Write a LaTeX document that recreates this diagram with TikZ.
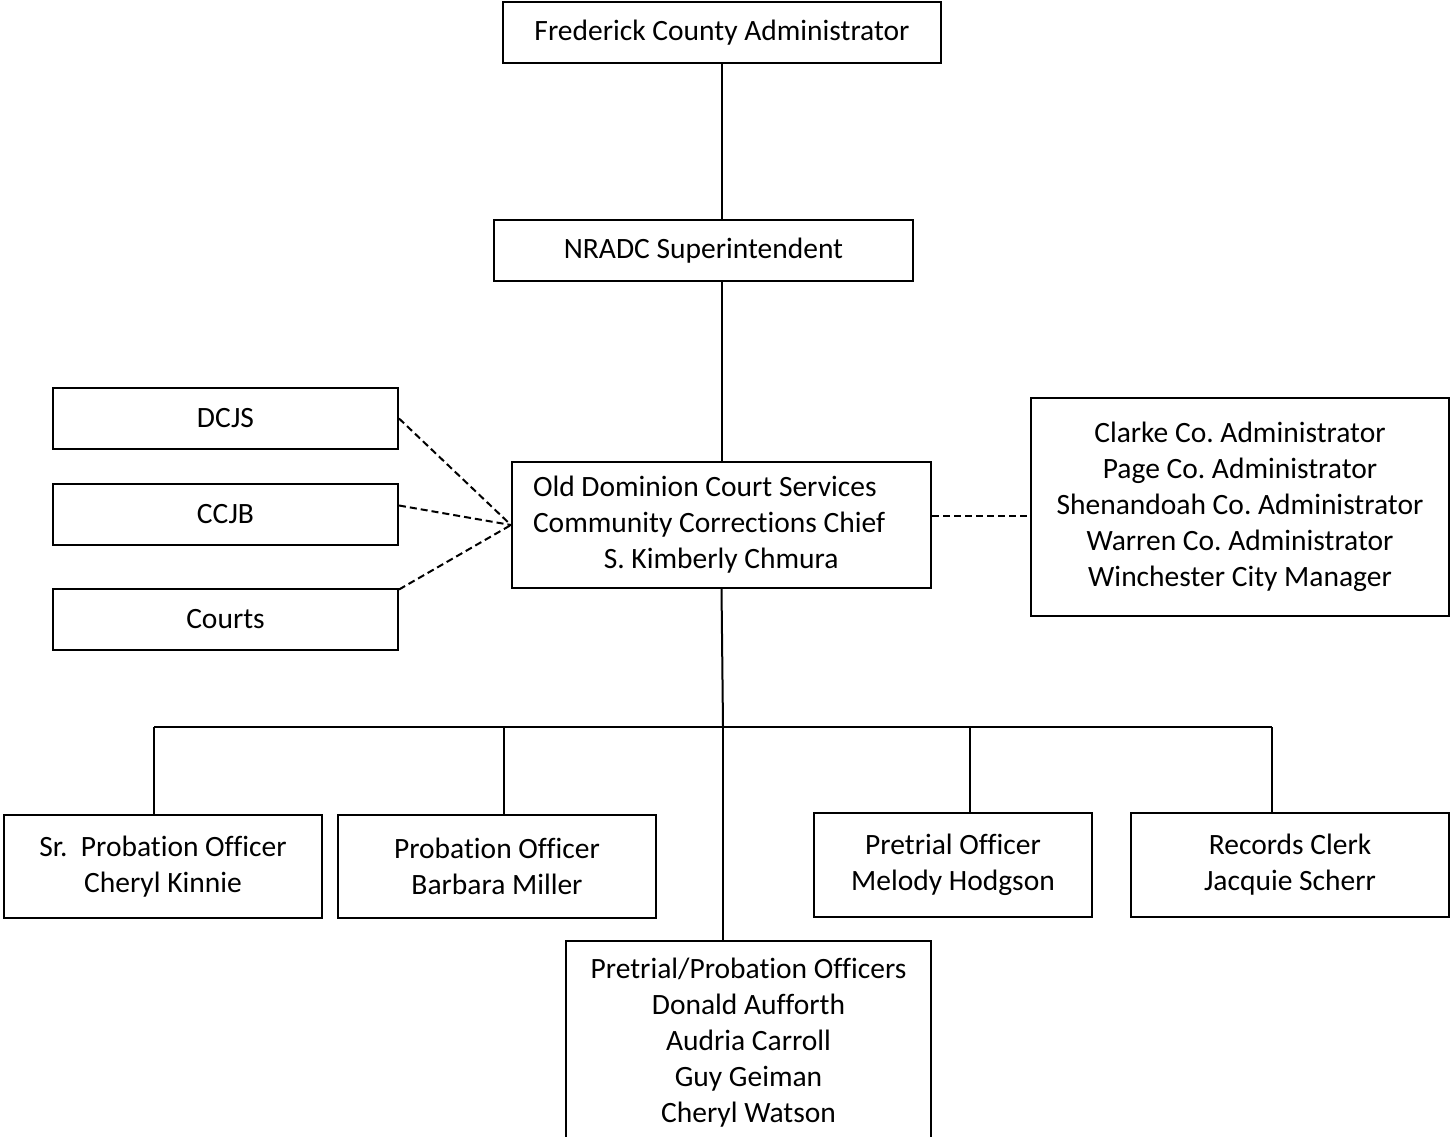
\documentclass[tikz,border=0pt]{standalone}
\usepackage{fontspec}
\setmainfont{Carlito}[Ligatures=NoCommon]
\usepackage{tikz}
\usetikzlibrary{positioning}
\frenchspacing

\tikzset{
  box/.style={rectangle,draw=black,line width=0.8pt,inner sep=0pt,align=center,font=\fontsize{11.8pt}{14.4pt}\selectfont},
  link/.style={line width=0.8pt},
  dotlink/.style={line width=0.8pt,dash pattern=on 2.8pt off 1.6pt}
}

\begin{document}
\begin{tikzpicture}[x=0.4pt,y=-0.4pt]
\path[use as bounding box,clip] (0,0) rectangle (1450,1137);
\node[box,minimum width=175.2pt,minimum height=24.4pt] (fca) at (722,32.5) {Frederick County Administrator};
\node[box,minimum width=167.6pt,minimum height=24.4pt] (nradc) at (703.5,250.5) {NRADC Superintendent};
\node[box,minimum width=167.6pt,minimum height=50.4pt,text width=150.8pt,align=flush left] (chief) at (721.5,525) {Old Dominion Court Services\\Community Corrections Chief\\\hspace*{2.4em}S. Kimberly Chmura};
\node[box,minimum width=138pt,minimum height=24.4pt] (dcjs) at (225.5,418.5) {DCJS};
\node[box,minimum width=138pt,minimum height=24.4pt,below=13.2pt of dcjs] (ccjb) {CCJB};
\node[box,minimum width=138pt,minimum height=24.4pt,below=16.8pt of ccjb] (courts) {Courts};
\node[box,minimum width=167.2pt,minimum height=87.2pt] (county) at (1240,507) {Clarke Co. Administrator\\Page Co. Administrator\\Shenandoah Co. Administrator\\Warren Co. Administrator\\Winchester City Manager};
\node[box,minimum width=127.2pt,minimum height=41.2pt] (srpo) at (163,866.5) {Sr.\ \ Probation Officer\\Cheryl Kinnie};
\node[box,minimum width=127.2pt,minimum height=41.2pt,right=5.6pt of srpo] (po) {Probation Officer\\Barbara Miller};
\node[box,minimum width=111.2pt,minimum height=41.6pt] (pto) at (953,865) {Pretrial Officer\\Melody Hodgson};
\node[box,minimum width=127.2pt,minimum height=41.6pt] (clerk) at (1290,865) {Records Clerk\\Jacquie Scherr};
\node[box,minimum width=146pt,minimum height=81.6pt] (ppo) at (748.5,1043) {Pretrial/Probation Officers\\Donald Aufforth\\Audria Carroll\\Guy Geiman\\Cheryl Watson};
\coordinate (hub) at (723,727);
\coordinate (b1) at (154,727);
\coordinate (b2) at (504,727);
\coordinate (b3) at (970,727);
\coordinate (b4) at (1272,727);
\draw[link] (fca.south) -- (fca.south |- nradc.north);
\draw[link] (nradc.south -| chief.north) -- (chief.north);
\draw[link] (chief.south) -- (hub);
\draw[link] (hub) -- (hub |- ppo.north);
\draw[link] (b1) -- (b4);
\draw[link] (b1) -- (b1 |- srpo.north);
\draw[link] (b2) -- (b2 |- po.north);
\draw[link] (b3) -- (b3 |- pto.north);
\draw[link] (b4) -- (b4 |- clerk.north);
\draw[dotlink] (dcjs.east) -- (chief.west);
\draw[dotlink] ([yshift=3.6pt]ccjb.east) -- (chief.west);
\draw[dotlink] ([yshift=12pt]courts.east) -- (chief.west);
\draw[dotlink] ([yshift=3.6pt]chief.east) -- ([yshift=3.6pt]chief.east -| county.west);
\end{tikzpicture}
\end{document}
